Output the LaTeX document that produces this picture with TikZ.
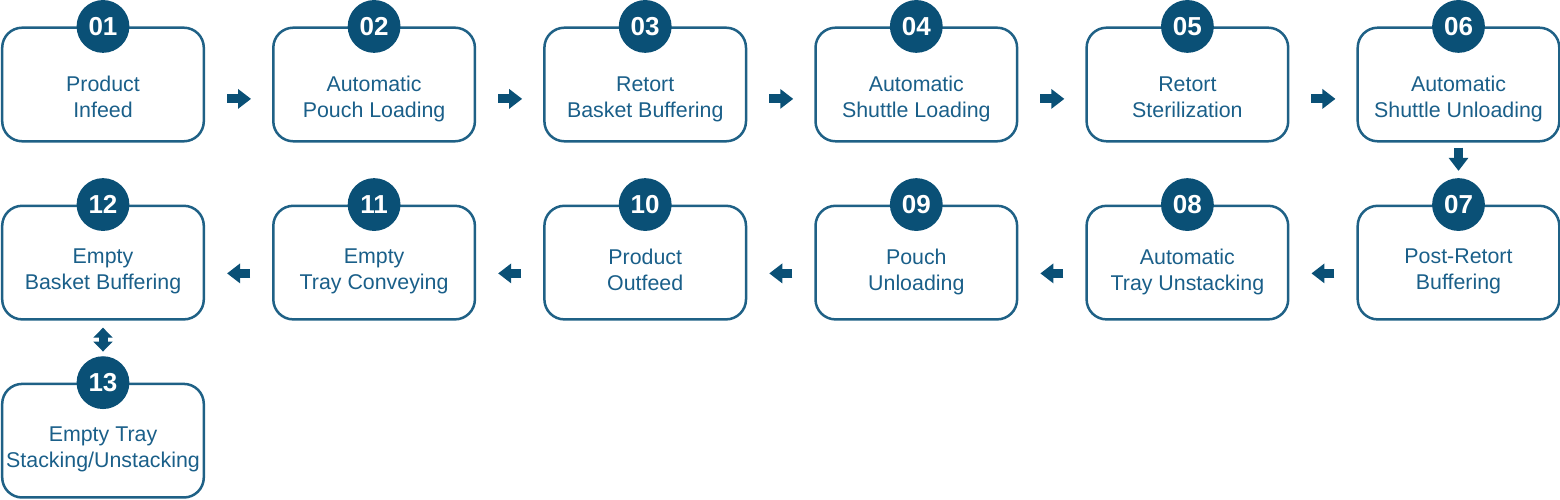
\documentclass[tikz,border=0pt]{standalone}
\usepackage{fontspec}
\setmainfont{Liberation Sans}
\usetikzlibrary{positioning,arrows.meta}
\definecolor{stepblue}{HTML}{0A5076}
\definecolor{stepline}{HTML}{1F6186}
\definecolor{steptext}{HTML}{1A5F89}

\begin{document}
\begin{tikzpicture}[node distance = 1.55cm and 1.675cm,
    stepbox/.style={draw=stepline, line width=0.0625cm, rounded corners=0.5cm,
        minimum width=5.04cm, minimum height=2.84cm},
    steplabel/.style={text=steptext, align=center, font=\fontsize{15.2}{18.5}\selectfont,
        execute at begin node=\strut, execute at end node=\strut},
    badge/.style={circle, fill=stepblue, minimum size=1.32cm, inner sep=0pt,
        text=white, font=\fontsize{18.5}{20}\selectfont\bfseries},
    flow/.style={stepblue, line width=0.225cm, -{Triangle[length=0.325cm, width=0.475cm]}}]
            \useasboundingbox (0,0) rectangle (39,12.5);
            % boxes
            \node (b1) [stepbox] at (2.575,10.3875) {};
            \node (b2) [stepbox, right=of b1] {};
            \node (b3) [stepbox, right=of b2] {};
            \node (b4) [stepbox, right=of b3] {};
            \node (b5) [stepbox, right=of b4] {};
            \node (b6) [stepbox, right=of b5] {};
            \node (b7) [stepbox, below=of b6] {};
            \node (b8) [stepbox, left=of b7] {};
            \node (b9) [stepbox, left=of b8] {};
            \node (b10) [stepbox, left=of b9] {};
            \node (b11) [stepbox, left=of b10] {};
            \node (b12) [stepbox, left=of b11] {};
            \node (b13) [stepbox, below=of b12] {};
            % texts
            \node (t1) [steplabel] at ([yshift=-0.41cm]b1.center) {Product\\Infeed};
            \node (t2) [steplabel] at ([yshift=-0.41cm]b2.center) {Automatic\\Pouch Loading};
            \node (t3) [steplabel] at ([yshift=-0.41cm]b3.center) {Retort\\Basket Buffering};
            \node (t4) [steplabel] at ([yshift=-0.41cm]b4.center) {Automatic\\Shuttle Loading};
            \node (t5) [steplabel] at ([yshift=-0.41cm]b5.center) {Retort\\Sterilization};
            \node (t6) [steplabel] at ([yshift=-0.41cm]b6.center) {Automatic\\Shuttle Unloading};
            \node (t7) [steplabel] at ([yshift=-0.27cm]b7.center) {Post-Retort\\Buffering};
            \node (t8) [steplabel] at ([yshift=-0.27cm]b8.center) {Automatic\\Tray Unstacking};
            \node (t9) [steplabel] at ([yshift=-0.27cm]b9.center) {Pouch\\Unloading};
            \node (t10) [steplabel] at ([yshift=-0.27cm]b10.center) {Product\\Outfeed};
            \node (t11) [steplabel] at ([yshift=-0.27cm]b11.center) {Empty\\Tray Conveying};
            \node (t12) [steplabel] at ([yshift=-0.27cm]b12.center) {Empty\\Basket Buffering};
            \node (t13) [steplabel] at ([yshift=-0.255cm]b13.center) {Empty Tray\\Stacking/Unstacking};
            % numbers
            \node (n1) [badge] at (b1.north) {01};
            \node (n2) [badge] at (b2.north) {02};
            \node (n3) [badge] at (b3.north) {03};
            \node (n4) [badge] at (b4.north) {04};
            \node (n5) [badge] at (b5.north) {05};
            \node (n6) [badge] at (b6.north) {06};
            \node (n7) [badge] at (b7.north) {07};
            \node (n8) [badge] at (b8.north) {08};
            \node (n9) [badge] at (b9.north) {09};
            \node (n10) [badge] at (b10.north) {10};
            \node (n11) [badge] at (b11.north) {11};
            \node (n12) [badge] at (b12.north) {12};
            \node (n13) [badge] at (b13.north) {13};
            % arrows
            \draw[flow, shorten <=0.55cm, shorten >=0.525cm] ([yshift=0.05cm]t1 -| b1.east) -- ([yshift=0.05cm]t1 -| b2.west);
            \draw[flow, shorten <=0.55cm, shorten >=0.525cm] ([yshift=0.05cm]t2 -| b2.east) -- ([yshift=0.05cm]t2 -| b3.west);
            \draw[flow, shorten <=0.55cm, shorten >=0.525cm] ([yshift=0.05cm]t3 -| b3.east) -- ([yshift=0.05cm]t3 -| b4.west);
            \draw[flow, shorten <=0.55cm, shorten >=0.525cm] ([yshift=0.05cm]t4 -| b4.east) -- ([yshift=0.05cm]t4 -| b5.west);
            \draw[flow, shorten <=0.55cm, shorten >=0.525cm] ([yshift=0.05cm]t5 -| b5.east) -- ([yshift=0.05cm]t5 -| b6.west);
            \draw[flow, shorten <=0.125cm, shorten >=0.175cm] (b6.south) -- (n7.north);
            \draw[flow, shorten <=0.55cm, shorten >=0.55cm] (t7 -| b7.west) -- (t7 -| b8.east);
            \draw[flow, shorten <=0.55cm, shorten >=0.55cm] (t8 -| b8.west) -- (t8 -| b9.east);
            \draw[flow, shorten <=0.55cm, shorten >=0.55cm] (t9 -| b9.west) -- (t9 -| b10.east);
            \draw[flow, shorten <=0.55cm, shorten >=0.55cm] (t10 -| b10.west) -- (t10 -| b11.east);
            \draw[flow, shorten <=0.55cm, shorten >=0.55cm] (t11 -| b11.west) -- (t11 -| b12.east);
            \draw[flow, {Triangle[length=0.25cm, width=0.47cm]}-{Triangle[length=0.25cm, width=0.47cm]},
                shorten <=0.175cm, shorten >=0.11cm] (b12.south) -- (n13.north);
        \end{tikzpicture}
\end{document}
